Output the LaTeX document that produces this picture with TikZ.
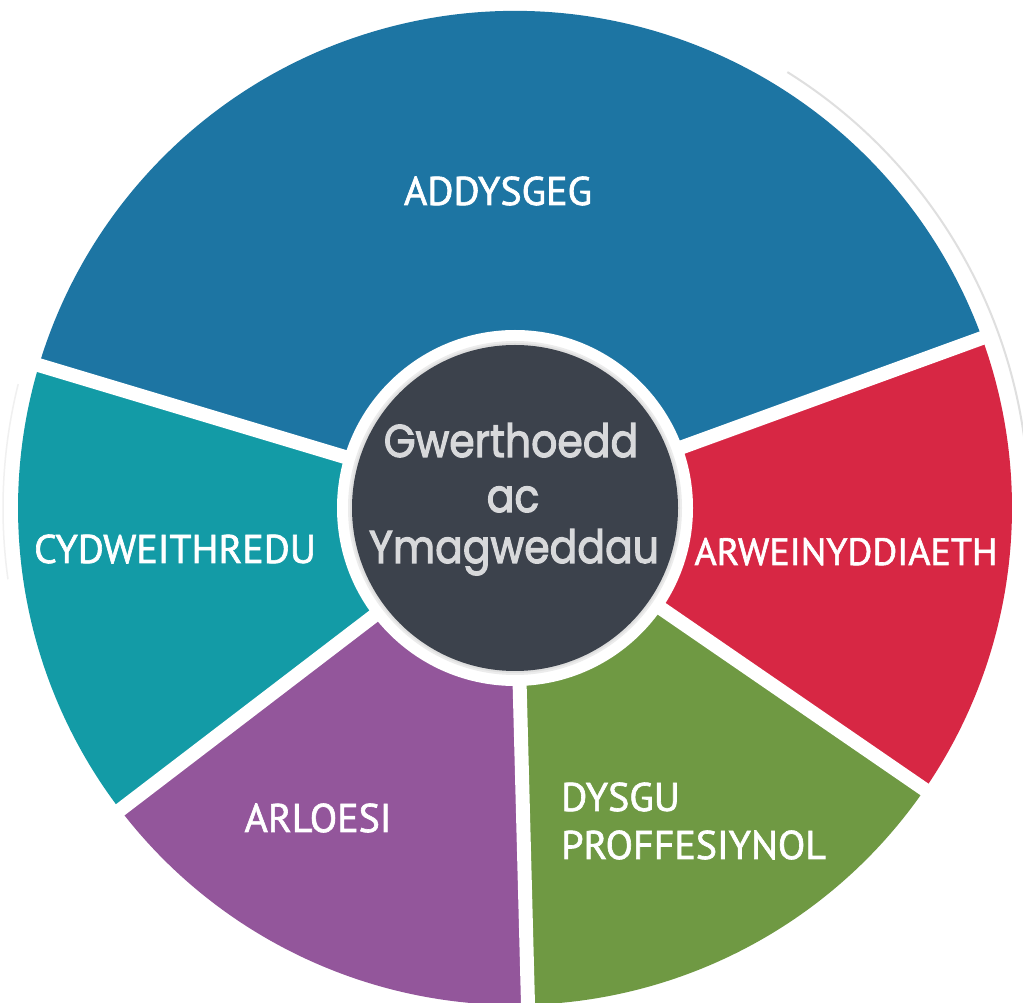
\documentclass[tikz,border=0pt]{standalone}
\usepackage{fontspec}
\newfontfamily\labelfont{PT Sans}[FakeBold=1.6]
\newfontfamily\centerfont{Poppins}[FakeBold=2.6]
\definecolor{cblue}{RGB}{29,117,163}
\definecolor{cteal}{RGB}{19,155,166}
\definecolor{cpurple}{RGB}{147,86,155}
\definecolor{cgreen}{RGB}{111,153,67}
\definecolor{cred}{RGB}{215,39,68}
\definecolor{cdark}{RGB}{60,66,76}
\definecolor{ctext}{RGB}{216,217,219}
\begin{document}
\begin{tikzpicture}[x=1pt,y=1pt,
  divider/.style={white, line width=14pt},
  lbl/.style={text=white, inner sep=0pt, font=\labelfont\fontsize{40}{44}\selectfont},
  ctr/.style={text=ctext, inner sep=0pt, anchor=base, yscale=1.12, transform shape, font=\centerfont\fontsize{41}{50}\selectfont}]
\useasboundingbox (0,0) rectangle (1023,1002);
\clip (0,0) rectangle (1023,1002);
\fill[white] (0,0) rectangle (1023,1002);
\coordinate (C) at (515,494);
\def\R{497}
% wedges
\fill[cblue]   (C) -- ++(20:\R)    arc[start angle=20,    end angle=163.3, radius=\R] -- cycle;
\fill[cteal]   (C) -- ++(163.3:\R) arc[start angle=163.3, end angle=217.4, radius=\R] -- cycle;
\fill[cpurple] (C) -- ++(217.4:\R) arc[start angle=217.4, end angle=271.5, radius=\R] -- cycle;
\fill[cgreen]  (C) -- ++(271.5:\R) arc[start angle=271.5, end angle=325.5, radius=\R] -- cycle;
\fill[cred]    (C) -- ++(325.5:\R) arc[start angle=325.5, end angle=380,   radius=\R] -- cycle;
% dividers
\foreach \a in {20,163.3,217.4,271.5,325.5}
  \draw[divider] (C) -- ++(\a:530);
% faint outer rim
\draw[gray!25, line width=2pt] (C) ++(6:514) arc[start angle=6, end angle=58, radius=514];
\draw[gray!12, line width=1.5pt] (C) ++(166:512) arc[start angle=166, end angle=188, radius=512];
% centre
\fill[white] (C) circle (178);
\fill[gray!15] (C) circle (167);
\fill[gray!25] (C) circle (165);
\fill[cdark] (C) circle (163);
% labels
\node[lbl, anchor=base] (addysgeg) at (498,797) {ADDYSGEG};
\node[lbl, anchor=base] (cydweithredu) at (175,439) {CYDWEITHREDU};
\node[lbl, anchor=base, font=\labelfont\fontsize{38}{42}\selectfont] (arweinyddiaeth) at (846,437) {ARWEINYDDIAETH};
\node[lbl, anchor=base] (arloesi) at (318,170) {ARLOESI};
\node[lbl, anchor=base west] (dysgu) at (561,191) {DYSGU};
\node[lbl, anchor=base west] (proff) at (561,143) {PROFFESIYNOL};
\node[ctr] (c1) at (511,545) {Gwerthoedd};
\node[ctr] (c2) at (513,490) {ac};
\node[ctr] (c3) at (514,439) {Ymagweddau};
\end{tikzpicture}
\end{document}
